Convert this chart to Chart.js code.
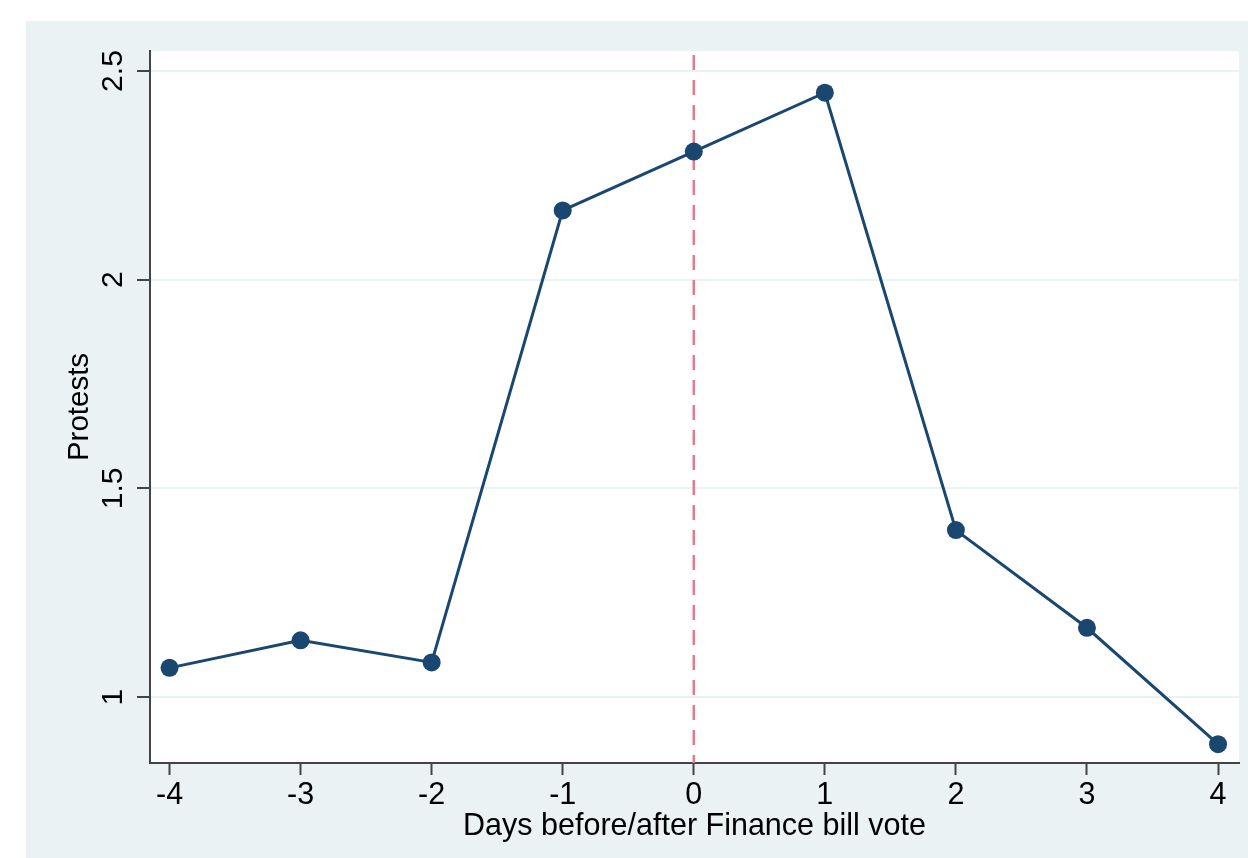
<!DOCTYPE html>
<html>
<head>
<meta charset="utf-8">
<script src="https://cdn.jsdelivr.net/npm/chart.js@4.4.1/dist/chart.umd.min.js"></script>
<style>
  html, body { margin: 0; padding: 0; background: #ffffff; }
  canvas { display: block; }
</style>
</head>
<body>
<canvas id="protest-chart" width="1248" height="858"></canvas>
<script>
// ====== Data
const days = [-4, -3, -2, -1, 0, 1, 2, 3, 4];
const protests = [1.07, 1.136, 1.083, 2.166, 2.307, 2.448, 1.40, 1.166, 0.887];
const xTicks = [-4, -3, -2, -1, 0, 1, 2, 3, 4];
const yTicks = [1, 1.5, 2, 2.5];
const xTickLabels = ["-4", "-3", "-2", "-1", "0", "1", "2", "3", "4"];
const yTickLabels = ["1", "1.5", "2", "2.5"];
const voteDay = 0;

// ====== Colours
const PANEL = "#eaf2f3";
const NAVY = "#1a476f";
const AXIS = "#444444";
const FONT = "'Liberation Sans', Arial, Helvetica, sans-serif";

// ====== Background panel + white plot region
const backgroundPlugin = {
  id: "stataBackground",
  beforeDraw: (chart) => {
    const { ctx, chartArea, width, height } = chart;
    ctx.save();
    ctx.fillStyle = "#ffffff";
    ctx.fillRect(0, 0, width, height);
    ctx.fillStyle = PANEL;
    ctx.fillRect(26, 21, width - 26, height - 21);
    ctx.fillStyle = "#ffffff";
    ctx.fillRect(chartArea.left, chartArea.top, chartArea.right - chartArea.left, chartArea.bottom - chartArea.top);
    ctx.restore();
  },
};

// ====== Dashed line at the vote day
const voteLinePlugin = {
  id: "voteLine",
  beforeDatasetsDraw: (chart) => {
    const { ctx, chartArea, scales } = chart;
    const x = scales.x.getPixelForValue(voteDay);
    ctx.save();
    ctx.strokeStyle = "#e27b8d";
    ctx.lineWidth = 2.5;
    ctx.setLineDash([15, 10]);
    ctx.beginPath();
    ctx.moveTo(x, chartArea.top + 4);
    ctx.lineTo(x, chartArea.bottom);
    ctx.stroke();
    ctx.restore();
  },
};

const ctx = document.getElementById("protest-chart").getContext("2d");

new Chart(ctx, {
  type: "line",
  data: {
    datasets: [{
      data: days.map((d, i) => ({ x: d, y: protests[i] })),
      borderColor: NAVY,
      backgroundColor: NAVY,
      borderWidth: 3,
      pointRadius: 9,
      pointBorderWidth: 0,
      pointBackgroundColor: NAVY,
      tension: 0,
      fill: false,
    }],
  },
  options: {
    responsive: false,
    animation: false,
    devicePixelRatio: 1,
    layout: { padding: { left: 26, top: 51, right: 8, bottom: 0 } },
    plugins: {
      legend: { display: false },
      tooltip: { enabled: false },
    },
    scales: {
      x: {
        type: "linear",
        min: -4.149,
        max: 4.16,
        afterBuildTicks: (scale) => { scale.ticks = xTicks.map(v => ({ value: v })); },
        afterFit: (scale) => { scale.height = 95; },
        ticks: {
          color: "#000000",
          font: { family: FONT, size: 30.5 },
          padding: 2,
          maxRotation: 0,
          minRotation: 0,
          callback: (value) => xTickLabels[xTicks.indexOf(value)],
        },
        grid: {
          drawOnChartArea: false,
          drawTicks: true,
          tickLength: 12,
          tickColor: AXIS,
          tickWidth: 2,
        },
        border: { display: true, color: AXIS, width: 2 },
        title: {
          display: true,
          text: "Days before/after Finance bill vote",
          color: "#000000",
          font: { family: FONT, size: 30.5 },
          padding: { top: 0, bottom: 13 },
        },
      },
      y: {
        type: "linear",
        min: 0.842,
        max: 2.548,
        afterBuildTicks: (scale) => { scale.ticks = yTicks.map(v => ({ value: v })); },
        afterFit: (scale) => { scale.width = 124; },
        ticks: {
          color: "#000000",
          font: { family: FONT, size: 30 },
          padding: 2,
          minRotation: 90,
          maxRotation: 90,
          crossAlign: "center",
          callback: (value) => yTickLabels[yTicks.indexOf(value)],
        },
        grid: {
          color: PANEL,
          lineWidth: 2,
          drawTicks: true,
          tickLength: 13,
          tickColor: AXIS,
          tickWidth: 2,
        },
        border: { display: true, color: AXIS, width: 2 },
        title: {
          display: true,
          text: "Protests",
          color: "#000000",
          font: { family: FONT, size: 29.5 },
          padding: { top: 36, bottom: 0 },
        },
      },
    },
  },
  plugins: [backgroundPlugin, voteLinePlugin],
});
</script>
</body>
</html>
